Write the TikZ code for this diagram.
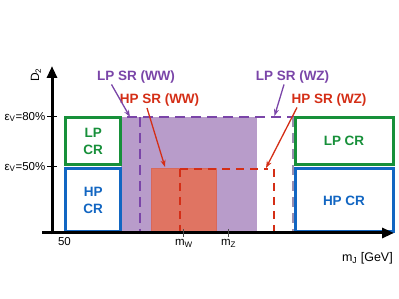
\documentclass[tikz,border=0pt]{standalone}
\usepackage{fontspec}
\setmainfont{Liberation Sans}
\usetikzlibrary{arrows.meta}
\definecolor{pfill}{HTML}{B89CCA}
\definecolor{pline}{HTML}{7A45A8}
\definecolor{pgrey}{HTML}{9A8FB0}
\definecolor{rfill}{HTML}{E07462}
\definecolor{redge}{HTML}{D8685A}
\definecolor{rline}{HTML}{D42E16}
\definecolor{gline}{HTML}{17903A}
\definecolor{bline}{HTML}{1266C2}
\begin{document}
\begin{tikzpicture}[x=1pt,y=-1pt,
  lbl/.style={font=\fontsize{13.5}{16}\selectfont\bfseries, inner sep=0pt},
  crbox/.style={line width=3pt, fill=white, align=center, inner sep=0pt,
    font=\fontsize{13.5}{17}\selectfont\bfseries},
  axlbl/.style={font=\fontsize{11.5}{13}\selectfont, inner sep=0pt},
  pdash/.style={pline, line width=2pt, dash pattern=on 10pt off 6pt},
  rdash/.style={rline, line width=1.5pt, dash pattern=on 8pt off 6pt},
  callout/.style={line width=1.3pt, -{Stealth[length=7pt,width=5pt]}},
  axis/.style={line width=3pt, -{Triangle[length=12pt,width=10pt]}}
]
\useasboundingbox (0,0) rectangle (399,299);
% regions
\fill[pfill] (121,117) rectangle (257,233);
\filldraw[fill=rfill, draw=redge, line width=1pt] (151,169) rectangle (216.5,233);
% dashed borders
\draw[pdash] (127,117) -- (294,117);
\draw[pdash] (140,117) -- (140,233);
\draw[pgrey, line width=2pt, dash pattern=on 10pt off 6pt] (293,117) -- (293,233);
\draw[rdash] (180,169) -- (268,169);
\draw[rdash] (180,169) -- (180,233);
\draw[rdash] (274,169) -- (274,233);
% control-region boxes
\node[crbox, draw=gline, text=gline, minimum width=55pt, minimum height=47pt] (lpcrL) at (93.2,141.3) {LP\\CR};
\node[crbox, draw=bline, text=bline, minimum width=55pt, minimum height=63pt] (hpcrL) at (93.2,200.5) {HP\\CR};
\node[crbox, draw=gline, text=gline, minimum width=98pt, minimum height=47pt] (lpcrR) at (344,141.3) {LP CR};
\node[crbox, draw=bline, text=bline, minimum width=98pt, minimum height=63pt] (hpcrR) at (344,200.5) {HP CR};
% axes
\coordinate (origx) at (42,233);
\coordinate (xend) at (394,233);
\coordinate (origy) at (52,234.5);
\coordinate (yend) at (52,66);
\draw[axis] (origx) -- (xend);
\draw[axis] (origy) -- (yend);
% ticks
\coordinate (t80a) at (47,117); \coordinate (t80b) at (57,117);
\coordinate (t50a) at (47,167); \coordinate (t50b) at (57,167);
\draw[line width=1pt] (t80a) -- (t80b);
\draw[line width=1pt] (t50a) -- (t50b);
\coordinate (mwa) at (183,229); \coordinate (mwb) at (183,237);
\coordinate (mza) at (228,229); \coordinate (mzb) at (228,237);
\draw[line width=1pt, black!70] (mwa) -- (mwb);
\draw[line width=1pt, black!70] (mza) -- (mzb);
% axis labels
\node[axlbl, anchor=east] (e80) at (45.5,117) {ε\textsubscript{V}=80\%};
\node[axlbl, anchor=east] (e50) at (45.5,167) {ε\textsubscript{V}=50\%};
\node[axlbl] (fifty) at (64.5,242) {50};
\node[axlbl] (mw) at (184,243.5) {m\textsubscript{W}};
\node[axlbl] (mz) at (228.5,243.5) {m\textsubscript{Z}};
\node[axlbl, anchor=east, font=\fontsize{12.5}{14}\selectfont] (mj) at (393,258) {m\textsubscript{J} [GeV]};
\node[axlbl, rotate=90, font=\fontsize{12}{14}\selectfont] (d2) at (36,75) {D\textsubscript{2}};
% SR labels
\node[lbl, text=pline] (lpww) at (136,77) {LP SR (WW)};
\node[lbl, text=rline] (hpww) at (159.5,100) {HP SR (WW)};
\node[lbl, text=pline] (lpwz) at (292.5,77) {LP SR (WZ)};
\node[lbl, text=rline] (hpwz) at (329,100) {HP SR (WZ)};
\coordinate (a1s) at (111.5,84.5); \coordinate (a1e) at (130,117);
\coordinate (a2s) at (147,108);   \coordinate (a2e) at (165,167);
\coordinate (a3s) at (284,84.5);  \coordinate (a3e) at (274.5,116);
\coordinate (a4s) at (297,107.5); \coordinate (a4e) at (266,168);
\draw[callout, pline] (a1s) -- (a1e);
\draw[callout, rline] (a2s) -- (a2e);
\draw[callout, pline] (a3s) -- (a3e);
\draw[callout, rline] (a4s) -- (a4e);
\end{tikzpicture}
\end{document}
